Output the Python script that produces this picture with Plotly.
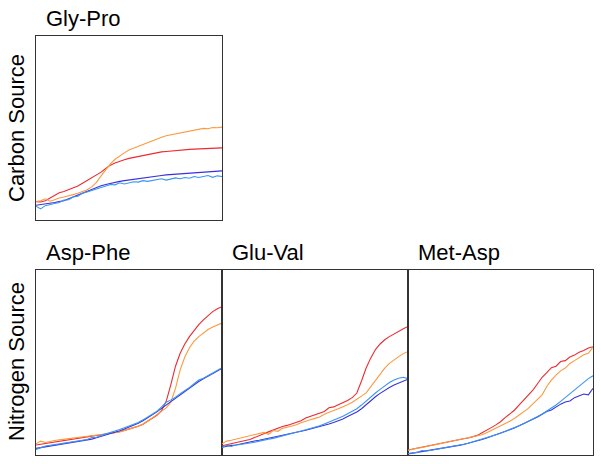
import plotly.graph_objects as go

W, H = 601, 464

time_pts = [0, 2.5, 5, 7.5, 10, 12.5, 15, 17.5, 20, 22.5, 25, 27.5, 30, 32.5, 35, 37.5, 40,
            42.5, 45, 47.5, 50, 52.5, 55, 57.5, 60, 62.5, 65, 67.5, 70, 72.5, 75, 77.5, 80,
            82.5, 85, 87.5, 90, 92.5, 95, 97.5, 100]

panel_titles = ["Gly-Pro", "Asp-Phe", "Glu-Val", "Met-Asp"]
row_labels = ["Carbon Source", "Nitrogen Source"]
series_names = ["red", "orange", "blue", "lightblue"]
series_colors = ["#ec2a2f", "#fb9a3e", "#3a30dc", "#3896f2"]

# Gly-Pro (carbon source)
glypro_red = [10, 9.8, 10.5, 12, 13.5, 14.8, 15.5, 16.5, 17.5, 18.5, 20, 21.5, 23, 24.5, 26, 28, 29.8,
              31, 32, 32.8, 33.5, 34, 34.8, 35.3, 35.8, 36.2, 36.6, 37, 37.2, 37.5, 37.8, 38, 38.2,
              38.4, 38.5, 38.6, 38.8, 38.8, 39, 39, 39.2]
glypro_orange = [10, 10.5, 11.5, 10.2, 11, 12, 12.5, 13, 13.8, 14.5, 15.5, 16.5, 18, 20.5, 24, 27.5, 30.5,
                 33, 35, 36.5, 38, 39, 40, 41, 42.3, 43, 44, 45, 45.8, 46.3, 47, 47.6, 48,
                 48.5, 49, 49.2, 49.8, 49.6, 50.3, 50.1, 50.5]
glypro_blue = [8, 8.3, 8.5, 8.8, 9.5, 10, 10.5, 11.5, 12.5, 13.5, 14.8, 15.8, 16.8, 17.8, 18.6, 19.3, 20,
               20.5, 21, 21.4, 21.8, 22.2, 22.6, 23, 23.3, 23.6, 23.9, 24.2, 24.5, 24.7, 25, 25.2, 25.4,
               25.6, 25.8, 26, 26.1, 26.3, 26.4, 26.5, 26.7]
glypro_lightblue = [7.5, 6, 7.8, 8.2, 9, 9.5, 10.8, 11, 12.5, 12.9, 14.5, 15.2, 16, 16.9, 17.6, 18.4, 19.3,
                    19.1, 20.2, 19.6, 20.3, 20.8, 20.6, 21.4, 21, 21.6, 21.9, 22.4, 21.7, 22.2, 22.9, 22.4, 23.1,
                    22.7, 23.6, 23.1, 23.5, 24.2, 23.2, 24, 23.6]

# Asp-Phe (nitrogen source)
aspphe_red = [5.4, 5.8, 6.3, 6.8, 7.2, 7.8, 8.2, 8.6, 9, 9.3, 9.6, 9.9, 10.2, 10.5, 10.9, 11.2, 11.6,
              12.1, 12.6, 13.3, 14, 14.6, 15.5, 16.6, 18.2, 19.8, 21.5, 24, 29, 38, 48, 55, 60,
              64, 67.5, 70.5, 73, 75.5, 77.5, 79, 80.2]
aspphe_orange = [6, 7.5, 6.8, 7.5, 7.8, 8.2, 8.5, 8.8, 9.1, 9.4, 9.7, 10, 10.3, 10.5, 10.9, 11.2, 11.6,
                 12, 12.5, 13.2, 14, 14.7, 15.6, 16.8, 18.3, 20, 21.8, 23.8, 25.5, 28.5, 36, 46, 53,
                 58, 61.5, 64, 66, 67.8, 69.2, 70.3, 71.3]
aspphe_blue = [3.6, 4, 4.4, 4.6, 5, 5.4, 5.8, 6.2, 6.6, 7, 7.5, 8, 8.6, 9.3, 10, 10.8, 11.5,
               12.3, 13.1, 14, 15, 16, 17.2, 18.5, 20, 21.6, 23.3, 25.2, 27, 29, 31, 32.8, 34.6,
               36.3, 38, 39.7, 41.2, 42.7, 44.2, 45.5, 46.8]
aspphe_lightblue = [3, 3.8, 4.9, 5.2, 5.6, 5.9, 6.3, 6.5, 7.2, 7.4, 7.9, 8.4, 9.4, 9.6, 10.6, 11.3, 12.3,
                    12.9, 13.8, 14.7, 15.6, 16.6, 17.6, 19, 20.4, 21.9, 23.6, 26, 28.5, 29.8, 31.2, 33.2, 34.8,
                    36.5, 38.5, 40.5, 41.5, 43, 44.5, 46, 47.2]

# Glu-Val (nitrogen source)
gluval_red = [5, 5.5, 6, 6.6, 7.2, 7.8, 8.4, 9.5, 10.8, 11.5, 12.5, 13.5, 14.5, 15.4, 16, 16.8, 17.8,
              18.5, 20, 20.8, 21.6, 22.5, 23.5, 25.5, 26, 27.2, 28.3, 29.5, 31, 33.5, 40, 47, 52.5,
              57, 60, 62.3, 64, 65.5, 66.8, 68.2, 69.5]
gluval_orange = [6, 7.5, 8, 8.6, 9.2, 9.6, 10.2, 10.8, 11.5, 12.2, 11.2, 13.2, 12.8, 14.4, 15, 15.6, 16.3,
                 17.4, 18, 19, 19.8, 20.5, 22, 22.8, 24, 25, 26, 27.2, 28.5, 30, 31.8, 33.6, 37,
                 40.5, 44, 47, 49.5, 51.5, 53.2, 54.8, 56]
gluval_blue = [4.2, 4.8, 5.2, 5.4, 6, 6.8, 7.2, 7.6, 8, 8.5, 9, 9.5, 10, 10.5, 11, 11.6, 12.2,
               12.8, 13.4, 14, 14.6, 15.3, 16, 16.8, 17.6, 18.5, 19.5, 20.8, 22, 23.3, 25, 27.2, 29.5,
               31.5, 33.3, 35, 36.5, 37.8, 38.9, 40, 41]
gluval_lightblue = [4, 5.2, 4.6, 5.5, 5.7, 6, 6.5, 6.9, 7.5, 8.2, 8.6, 9, 9.6, 10.2, 10.8, 11.5, 12.2,
                    13, 13.7, 14.3, 15, 15.8, 16.8, 17.8, 18.8, 19.9, 21, 22.3, 23.5, 25, 27, 29.3, 31.5,
                    33.5, 35.5, 37.5, 39.2, 40.5, 41.5, 42, 41.3]

# Met-Asp (nitrogen source)
metasp_red = [2.7, 3.2, 3.8, 4.3, 5, 5.6, 6.1, 6.6, 7, 7.4, 7.8, 8.3, 8.8, 9.2, 9.8, 10.6, 12,
              13.2, 14.8, 16.3, 18, 20.2, 22.3, 24.2, 27, 29.5, 32, 35, 38.5, 42, 44.5, 47.2, 48,
              50.5, 51, 53, 54, 55.5, 56.5, 57.8, 58.5]
metasp_orange = [2.5, 3.2, 3.7, 4.1, 4.6, 5.1, 5.6, 6.3, 6.8, 7.4, 7.8, 8.3, 8.6, 9.1, 9.6, 10.2, 10.9,
                 12, 13.2, 14.2, 15.5, 16.8, 18.2, 19.7, 21.5, 23.3, 25.2, 27.6, 30, 32.5, 37, 40.5, 43.2,
                 45.5, 47, 49.5, 51, 52.8, 54.2, 55, 58.3]
metasp_blue = [0.6, 1, 1.5, 1.8, 2.1, 2.4, 2.9, 3.4, 3.9, 4.3, 4.8, 5.2, 5.7, 6.3, 7, 7.7, 8.4,
               9.2, 10, 10.8, 11.7, 12.6, 13.6, 14.6, 15.7, 16.8, 18, 19.2, 20.5, 22, 23.5, 24.3, 26,
               27.5, 28.6, 29.2, 31, 31.8, 33, 32.5, 36]
metasp_lightblue = [0.8, 1.2, 1.4, 2.4, 2.2, 2.6, 3, 3.5, 3.9, 4.4, 4.9, 5.3, 5.8, 6.4, 7.1, 7.8, 8.5,
                    9.3, 10.1, 10.9, 11.8, 12.7, 13.7, 14.7, 15.8, 16.9, 18.1, 19.4, 20.8, 22.2, 23.8, 25.3, 27,
                    29, 31, 33.2, 35.5, 37.5, 39.5, 41.3, 42.8]

panel_data = [
    [glypro_red, glypro_orange, glypro_blue, glypro_lightblue],
    [aspphe_red, aspphe_orange, aspphe_blue, aspphe_lightblue],
    [gluval_red, gluval_orange, gluval_blue, gluval_lightblue],
    [metasp_red, metasp_orange, metasp_blue, metasp_lightblue],
]

# panel boxes in window pixels: (left, right, top, bottom)
boxes = [(36, 222, 36, 220), (36, 222, 270, 455), (222, 408, 270, 455), (408, 593, 270, 455)]


def px(xp):
    return xp / W


def py(yp):
    return 1 - yp / H


FONT = "Liberation Sans, Arial, Helvetica, sans-serif"
fig = go.Figure()
layout = dict(width=W, height=H, margin=dict(l=0, r=0, t=0, b=0),
              paper_bgcolor="white", plot_bgcolor="white", showlegend=False,
              font=dict(family=FONT, color="black"))
annotations = []

for i, (box, series) in enumerate(zip(boxes, panel_data)):
    l, r, t, b = box
    xa = "xaxis" if i == 0 else f"xaxis{i+1}"
    ya = "yaxis" if i == 0 else f"yaxis{i+1}"
    xref = "x" if i == 0 else f"x{i+1}"
    yref = "y" if i == 0 else f"y{i+1}"
    for vals, name, col in zip(series, series_names, series_colors):
        fig.add_trace(go.Scatter(x=time_pts, y=vals, mode="lines", name=name,
                                 line=dict(color=col, width=1.1),
                                 xaxis=xref, yaxis=yref, hoverinfo="skip"))
    ax_common = dict(showgrid=False, zeroline=False, showticklabels=False, ticks="",
                     showline=True, mirror=True, linecolor="#333333", linewidth=1)
    layout[xa] = dict(domain=[px(l), px(r)], range=[0, 100], anchor=yref, **ax_common)
    layout[ya] = dict(domain=[py(b), py(t)], range=[0, 100], anchor=xref, **ax_common)
    annotations.append(dict(text=panel_titles[i], xref="paper", yref="paper",
                            x=px(l + 8), y=py(t - 18), xanchor="left", yanchor="middle",
                            showarrow=False, font=dict(size=22, family=FONT, color="black")))

annotations.append(dict(text=row_labels[0], xref="paper", yref="paper", x=px(16), y=py(128),
                        textangle=-90, xanchor="center", yanchor="middle", showarrow=False,
                        font=dict(size=22, family=FONT, color="black")))
annotations.append(dict(text=row_labels[1], xref="paper", yref="paper", x=px(16), y=py(362),
                        textangle=-90, xanchor="center", yanchor="middle", showarrow=False,
                        font=dict(size=22, family=FONT, color="black")))
layout["annotations"] = annotations
fig.update_layout(**layout)
fig.write_html("out.html", config={"displayModeBar": False},
               post_script="document.body.style.margin='0px';")
